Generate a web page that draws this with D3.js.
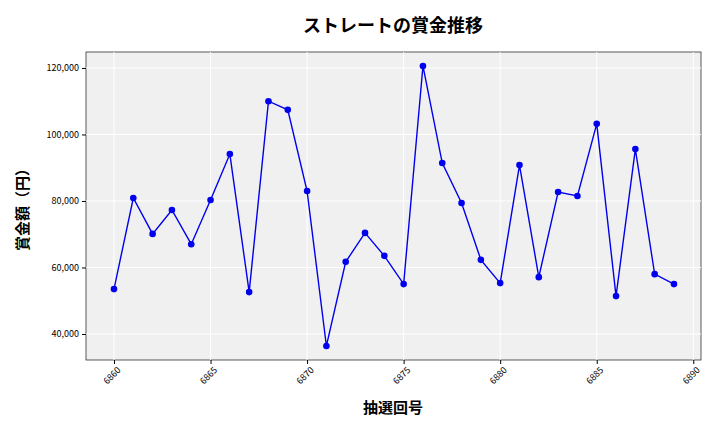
<!DOCTYPE html>
<html><head><meta charset="utf-8">
<script src="https://cdn.jsdelivr.net/npm/d3@7"></script>
<style>body{margin:0;background:#fff}text{font-family:"Noto Sans CJK JP","DejaVu Sans",sans-serif}</style>
</head><body><svg id="c" width="720" height="432"></svg>
<script>
const draws = [6860,6861,6862,6863,6864,6865,6866,6867,6868,6869,6870,6871,6872,6873,6874,6875,6876,6877,6878,6879,6880,6881,6882,6883,6884,6885,6886,6887,6888,6889];
const prizes = [53500,80900,70100,77300,67000,80300,94100,52600,110000,107400,83000,36400,61700,70400,63500,55000,120600,91400,79400,62300,55300,90800,57100,82700,81500,103200,51400,95600,58000,55000];
const xTicks = [6860,6865,6870,6875,6880,6885,6890];
const yTicks = [40000,60000,80000,100000,120000];

const svg = d3.select("#c");
const L=86,R=701,T=52,B=360;
const x = d3.scaleLinear().domain([6858.55,6890.4]).range([L,R]);
const y = d3.scaleLinear().domain([32180,124800]).range([B,T]);
svg.append("rect").attr("x",L).attr("y",T).attr("width",R-L).attr("height",B-T).attr("fill","#f0f0f0").attr("stroke","#333").attr("stroke-width",0.8);
const g=svg.append("g");
xTicks.forEach(t=>g.append("line").attr("x1",x(t)).attr("x2",x(t)).attr("y1",T).attr("y2",B).attr("stroke","#fff").attr("stroke-width",1));
yTicks.forEach(t=>g.append("line").attr("x1",L).attr("x2",R).attr("y1",y(t)).attr("y2",y(t)).attr("stroke","#fff").attr("stroke-width",1));
const xa = svg.append("g").attr("transform",`translate(0,${B})`).call(d3.axisBottom(x).tickValues(xTicks).tickFormat(d3.format("d")).tickSize(4));
xa.select(".domain").remove();
xa.selectAll("text").attr("transform","rotate(-45)").attr("text-anchor","end").attr("dx","-0.3em").attr("dy","0.6em").attr("font-size",9);
const ya = svg.append("g").attr("transform",`translate(${L},0)`).call(d3.axisLeft(y).tickValues(yTicks).tickFormat(d3.format(",")).tickSize(4));
ya.select(".domain").remove();
ya.selectAll("text").attr("font-size",9);
const pts = draws.map((d,i)=>[d,prizes[i]]);
svg.append("path").datum(pts).attr("fill","none").attr("stroke","#0000ee").attr("stroke-width",1.4).attr("d",d3.line().x(d=>x(d[0])).y(d=>y(d[1])));
svg.selectAll("circle.p").data(pts).enter().append("circle").attr("cx",d=>x(d[0])).attr("cy",d=>y(d[1])).attr("r",3.3).attr("fill","#0000ee");
svg.append("text").attr("x",393).attr("y",32).attr("text-anchor","middle").attr("font-size",18).attr("font-weight","bold").text("ストレートの賞金推移");
svg.append("text").attr("x",393).attr("y",413).attr("text-anchor","middle").attr("font-size",15).attr("font-weight","bold").text("抽選回号");
svg.append("text").attr("transform","translate(28,206) rotate(-90)").attr("text-anchor","middle").attr("font-size",15).attr("font-weight","bold").text("賞金額（円）");
</script></body></html>
